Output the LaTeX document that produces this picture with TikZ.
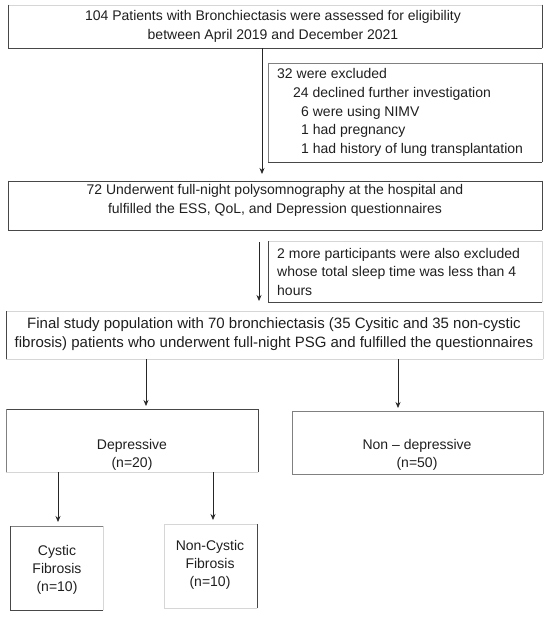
\documentclass[tikz,border=0pt]{standalone}
\usepackage{fontspec}
\setmainfont{Liberation Sans}
\usetikzlibrary{arrows.meta}
\definecolor{dk}{gray}{0.28}
\definecolor{md}{gray}{0.5}
\definecolor{lt}{gray}{0.84}
\definecolor{ink}{gray}{0.12}
\newcommand\boxedges[5]{%
  \draw[edgeline, #2] (#1.north west) -- (#1.north east);
  \draw[edgeline, #3] (#1.north east) -- (#1.south east);
  \draw[edgeline, #4] (#1.south east) -- (#1.south west);
  \draw[edgeline, #5] (#1.south west) -- (#1.north west);}
\begin{document}
\begin{tikzpicture}[x=1pt,y=-1pt,
  frame/.style={draw=none, inner sep=0pt, outer sep=0pt},
  edgeline/.style={line width=0.9pt, line cap=rect},
  txt/.style={inner sep=0pt, text=ink, align=center, font=\fontsize{14}{19}\selectfont},
  ltxt/.style={txt, align=left},
  arr/.style={draw=black!85, line width=0.7pt, -{Stealth[length=6pt,width=5pt]}}]
\useasboundingbox (0,0) rectangle (550,617);
% box frames
\node[frame, minimum width=534pt, minimum height=43pt] (b1) at (275,26.5) {};
\node[frame, minimum width=274pt, minimum height=99pt] (ex1) at (405,112.5) {};
\node[frame, minimum width=534pt, minimum height=49pt] (b2) at (275,205.5) {};
\node[frame, minimum width=274pt, minimum height=61pt] (ex2) at (405,271.5) {};
\node[frame, minimum width=537pt, minimum height=48pt] (b3) at (274.5,335) {};
\node[frame, minimum width=252pt, minimum height=63pt] (dep) at (132,440.5) {};
\node[frame, minimum width=251pt, minimum height=63pt] (nd) at (417.5,442.5) {};
\node[frame, minimum width=93pt, minimum height=84pt] (cf) at (56.5,568) {};
\node[frame, minimum width=93pt, minimum height=84pt] (ncf) at (210.5,566) {};
\boxedges{b1}{lt}{dk}{dk}{dk}
\boxedges{ex1}{md}{dk}{dk}{md}
\boxedges{b2}{dk}{dk}{dk}{dk}
\boxedges{ex2}{lt}{lt}{dk}{dk}
\boxedges{b3}{lt}{lt}{lt}{dk}
\boxedges{dep}{dk}{dk}{lt}{md}
\boxedges{nd}{md}{md}{md}{md}
\boxedges{cf}{md}{lt}{dk}{dk}
\boxedges{ncf}{lt}{dk}{lt}{lt}
% texts
\node[txt] (t1) at (273,26.5)
  {104 Patients with Bronchiectasis were assessed for eligibility\\between April 2019 and December 2021};
\node[ltxt, anchor=west, font=\fontsize{14}{18.75}\selectfont] (tex1) at (277,112.5)
  {32 were excluded\\
   \hspace*{16pt}24 declined further investigation\\
   \hspace*{24pt}6 were using NIMV\\
   \hspace*{24pt}1 had pregnancy\\
   \hspace*{24pt}1 had history of lung transplantation};
\node[txt] (t2) at (275,200)
  {72 Underwent full-night polysomnography at the hospital and\\fulfilled the ESS, QoL, and Depression questionnaires};
\node[ltxt, anchor=west, font=\fontsize{14}{18.5}\selectfont] (tex2) at (277,271.5)
  {2 more participants were also excluded\\whose total sleep time was less than 4\\hours};
\node[txt, font=\fontsize{15}{19}\selectfont] (t3) at (274,334.5)
  {Final study population with 70 bronchiectasis (35 Cysitic and 35 non-cystic\\fibrosis) patients who underwent full-night PSG and fulfilled the questionnaires};
\node[txt, font=\fontsize{14}{18}\selectfont] (tdep) at (132,455) {Depressive\\(n=20)};
\node[txt, font=\fontsize{14}{18}\selectfont] (tnd) at (417,455) {Non -- depressive\\(n=50)};
\node[txt, font=\fontsize{14}{18}\selectfont] (tcf) at (57,570) {Cystic\\Fibrosis\\(n=10)};
\node[txt, font=\fontsize{14}{18}\selectfont] (tncf) at (210,565) {Non-Cystic\\Fibrosis\\(n=10)};
% helper x positions
\coordinate (xa) at (262,0);
\coordinate (xc) at (146,0);
\coordinate (xd) at (398,0);
\coordinate (xe) at (58,0);
\coordinate (xf) at (213,0);
\coordinate (s2) at (259,242);
\coordinate (e2) at (259,301);
% connectors
\draw[arr, shorten >=7pt] (b1.south -| xa) -- (b2.north -| xa);
\draw[arr] (s2) -- (e2);
\draw[arr, shorten >=3pt] (b3.south -| xc) -- (dep.north -| xc);
\draw[arr, shorten >=3pt] (b3.south -| xd) -- (nd.north -| xd);
\draw[arr, shorten >=4pt] (dep.south -| xe) -- (cf.north -| xe);
\draw[arr, shorten >=4pt] (dep.south -| xf) -- (ncf.north -| xf);
\end{tikzpicture}
\end{document}
